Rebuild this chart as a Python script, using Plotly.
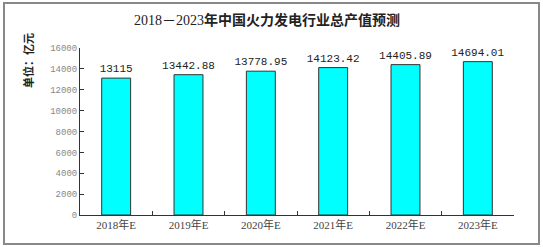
import plotly.graph_objects as go

categories = ["2018年E", "2019年E", "2020年E", "2021年E", "2022年E", "2023年E"]
values = [13115, 13442.88, 13778.95, 14123.42, 14405.89, 14694.01]
labels = ["13115", "13442.88", "13778.95", "14123.42", "14405.89", "14694.01"]
y_ticks = [0, 2000, 4000, 6000, 8000, 10000, 12000, 14000, 16000]
y_tick_text = ["0", "2000", "4000", "6000", "8000", "10000", "12000", "14000", "16000"]

W, H = 543, 247
L, R, T, B = 80, 29, 48, 32
pw, ph = W - L - R, H - T - B

def px(x):
    return (x - L) / pw

def py(y):
    return (H - B - y) / ph

fig = go.Figure()
fig.add_trace(go.Bar(
    x=categories, y=values, text=labels, textposition="outside",
    constraintext="none",
    textfont=dict(family="Liberation Mono, monospace", size=11, color="#222"),
    marker=dict(color="#00FFFF", line=dict(color="#333", width=1)),
    width=0.4, cliponaxis=False,
))

fig.update_layout(
    width=W, height=H, margin=dict(l=L, r=R, t=T, b=B),
    paper_bgcolor="white", plot_bgcolor="white", showlegend=False,
    title=dict(
        text="2018－2023<b>年中国火力发电行业总产值预测</b>",
        font=dict(family="Liberation Serif, Noto Sans CJK SC", size=14, color="#222"),
        x=267 / W, xanchor="center", y=1 - 20 / H, yanchor="middle",
    ),
    xaxis=dict(
        range=[-0.5, 5.5], showline=True, linecolor="#333", linewidth=1,
        ticks="inside", ticklen=4, tickcolor="#333", tickson="boundaries",
        tickfont=dict(family="Liberation Serif, Noto Sans CJK SC", size=11, color="#444"),
        showgrid=False, zeroline=False,
    ),
    yaxis=dict(
        range=[0, 16000], tickvals=y_ticks, ticktext=y_tick_text,
        showline=True, linecolor="#333", linewidth=1,
        ticks="inside", ticklen=4, tickcolor="#333",
        tickfont=dict(family="Liberation Mono, monospace", size=9, color="#888"),
        showgrid=False, zeroline=False,
    ),
    shapes=[dict(
        type="rect", xref="paper", yref="paper",
        x0=px(4), x1=px(539), y0=py(244), y1=py(3),
        line=dict(color="#888", width=2), fillcolor="rgba(0,0,0,0)", layer="below",
    )],
    annotations=[dict(
        text="<b>单位：亿元</b>", textangle=-90, xref="paper", yref="paper",
        x=px(28), y=py(61), showarrow=False, xanchor="center", yanchor="middle",
        font=dict(family="Noto Sans CJK SC", size=11, color="#222"),
    )],
)

fig.write_html("out.html")
